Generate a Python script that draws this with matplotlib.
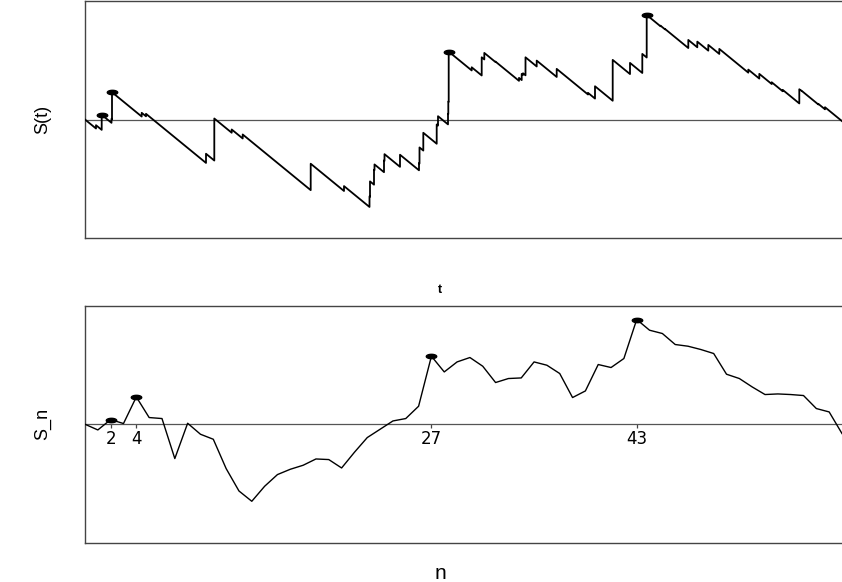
import numpy as np
import matplotlib
matplotlib.use("Agg")
import matplotlib.pyplot as plt
from matplotlib.path import Path

# Claim arrival times of the surplus process (time units), claims 1..58
claim_times = [1.10, 1.67, 2.65, 2.70, 5.67, 6.10, 12.10, 12.93, 14.67, 15.77,
               22.57, 25.90, 28.45, 28.50, 28.90, 28.95, 29.90, 29.95, 31.50, 33.40,
               33.45, 33.83, 35.17, 35.30, 36.30, 36.33, 36.37, 38.67, 39.67, 39.93,
               41.05, 43.40, 43.67, 43.80, 44.05, 45.17, 47.17, 50.30, 51.00, 52.77,
               54.50, 55.73, 56.17, 57.55, 58.00, 60.33, 61.23, 62.33, 63.43, 66.33,
               67.43, 68.67, 69.77, 71.43, 71.53, 71.67, 73.33, 74.00]

# Embedded random walk S_n = value just after the n-th claim, n = 0..59
s_n = [0.00, -0.57, 0.47, 0.07, 2.73, 0.67, 0.57, -3.43, 0.10, -1.00,
       -1.50, -4.43, -6.67, -7.70, -6.20, -5.03, -4.50, -4.10, -3.47, -3.53,
       -4.37, -2.80, -1.33, -0.50, 0.33, 0.57, 1.80, 6.80, 5.23, 6.23,
       6.67, 5.80, 4.17, 4.57, 4.63, 6.23, 5.90, 5.07, 2.67, 3.33,
       5.97, 5.67, 6.57, 10.47, 9.40, 9.07, 7.97, 7.80, 7.47, 7.07,
       5.00, 4.57, 3.73, 2.97, 3.03, 2.97, 2.87, 1.57, 1.23, -0.93]

premium_rate = 0.82   # linear drift between claims
t_end = 75.70         # observation horizon of the continuous-time path
y_half = 11.87        # symmetric vertical range

# continuous-time path: linear decrease, upward jump at each claim
tt, ss = [0.0], [s_n[0]]
prev_t, prev_s = 0.0, s_n[0]
for k, tk in enumerate(claim_times, start=1):
    before = prev_s - premium_rate * (tk - prev_t)
    tt += [tk, tk]
    ss += [before, s_n[k]]
    prev_t, prev_s = tk, s_n[k]
tt.append(t_end)
ss.append(prev_s - premium_rate * (t_end - prev_t))

# strict ascending ladder epochs
ladder = []
run_max = s_n[0]
for k in range(1, len(s_n)):
    if s_n[k] > run_max:
        ladder.append(k)
        run_max = s_n[k]

theta = np.linspace(0, 2 * np.pi, 41)
ellipse = Path(np.column_stack([np.cos(theta), 0.42 * np.sin(theta)]), closed=True)

W, H = 842, 582
fig = plt.figure(figsize=(W / 100, H / 100), dpi=100)
fig.patch.set_facecolor("white")

frame_col = "#444444"
x0, x1 = 85, 842
label_x = (440 - x0) / (x1 - x0)   # horizontal centre of the x labels


def make_axes(top_px, bot_px):
    ax = fig.add_axes([x0 / W, 1 - bot_px / H, (x1 - x0) / W, (bot_px - top_px) / H])
    for side in ("top", "bottom", "left"):
        ax.spines[side].set_color(frame_col)
        ax.spines[side].set_linewidth(1.0)
    ax.spines["right"].set_visible(False)
    ax.set_xticks([])
    ax.set_yticks([])
    ax.set_ylim(-y_half, y_half)
    ax.axhline(0, color="#555555", lw=0.9, zorder=1)
    return ax


# upper panel: S(t)
ax1 = make_axes(1, 238)
ax1.set_xlim(0, t_end)
ax1.plot(tt, ss, color="black", lw=1.3, zorder=3)
ax1.plot([claim_times[k - 1] for k in ladder], [s_n[k] for k in ladder],
         linestyle="none", marker=ellipse, markersize=7.5, color="black", zorder=4)
ax1.set_ylabel("S(t)", fontsize=13, family="Liberation Sans")
ax1.yaxis.set_label_coords(-0.044, 0.5)
ax1.set_xlabel("t", fontsize=9, fontweight="bold", family="Liberation Sans")
ax1.xaxis.set_label_coords(label_x, -0.195)

# lower panel: S_n
ax2 = make_axes(305.5, 543)
n_idx = np.arange(len(s_n))
ax2.set_xlim(0, n_idx[-1])
ax2.plot(n_idx, s_n, color="black", lw=1.0, zorder=3)
ax2.plot(ladder, [s_n[k] for k in ladder], linestyle="none", marker=ellipse,
         markersize=7.5, color="black", zorder=4)
sec = ax2.secondary_xaxis(0, transform=ax2.transData)
sec.set_xticks(ladder)
sec.set_xticklabels([str(k) for k in ladder])
sec.spines["bottom"].set_visible(False)
sec.tick_params(axis="x", direction="out", length=3, width=0.9, color=frame_col,
                pad=1.0, labelsize=12)
for lab in sec.get_xticklabels():
    lab.set_family("DejaVu Sans")
ax2.set_ylabel("S_n", fontsize=13, family="Liberation Sans")
ax2.yaxis.set_label_coords(-0.044, 0.5)
ax2.set_xlabel("n", fontsize=15, family="Liberation Sans")
ax2.xaxis.set_label_coords(label_x, -0.09)

fig.savefig("out.png", dpi=100, facecolor="white")
